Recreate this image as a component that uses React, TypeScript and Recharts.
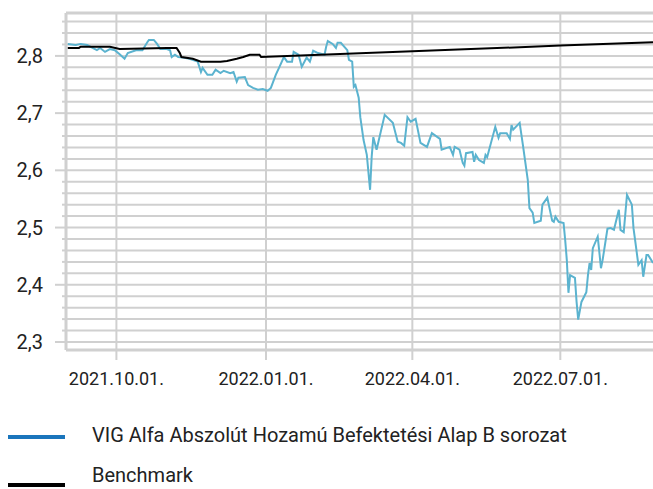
import React from 'react';
import { LineChart, Line, XAxis, YAxis, CartesianGrid, ReferenceLine } from 'recharts';

// fund (B series)
const fundDates = [
  '2021-09-01', '2021-09-06', '2021-09-09', '2021-09-13', '2021-09-19', '2021-09-21', '2021-09-24', '2021-09-27',
  '2021-09-30', '2021-10-03', '2021-10-06', '2021-10-08', '2021-10-13', '2021-10-17', '2021-10-20', '2021-10-21',
  '2021-10-24', '2021-10-26', '2021-10-28', '2021-11-01', '2021-11-03', '2021-11-04', '2021-11-06', '2021-11-08',
  '2021-11-11', '2021-11-15', '2021-11-20', '2021-11-22', '2021-11-23', '2021-11-26', '2021-11-29', '2021-12-01',
  '2021-12-04', '2021-12-06', '2021-12-10', '2021-12-12', '2021-12-14', '2021-12-15', '2021-12-19', '2021-12-21',
  '2021-12-24', '2021-12-27', '2021-12-30', '2022-01-02', '2022-01-04', '2022-01-07', '2022-01-09', '2022-01-12',
  '2022-01-14', '2022-01-17', '2022-01-18', '2022-01-21', '2022-01-23', '2022-01-26', '2022-01-28', '2022-01-30',
  '2022-02-02', '2022-02-06', '2022-02-07', '2022-02-08', '2022-02-11', '2022-02-13', '2022-02-14', '2022-02-16',
  '2022-02-20', '2022-02-21', '2022-02-23', '2022-02-24', '2022-02-25', '2022-02-27', '2022-02-28', '2022-03-02',
  '2022-03-04', '2022-03-06', '2022-03-07', '2022-03-08', '2022-03-10', '2022-03-15', '2022-03-20', '2022-03-23',
  '2022-03-25', '2022-03-27', '2022-03-29', '2022-03-31', '2022-04-03', '2022-04-06', '2022-04-10', '2022-04-13',
  '2022-04-18', '2022-04-19', '2022-04-24', '2022-04-26', '2022-04-27', '2022-04-30', '2022-05-02', '2022-05-03',
  '2022-05-04', '2022-05-08', '2022-05-09', '2022-05-10', '2022-05-12', '2022-05-15', '2022-05-16', '2022-05-17',
  '2022-05-22', '2022-05-24', '2022-05-25', '2022-05-29', '2022-05-31', '2022-06-01', '2022-06-02', '2022-06-06',
  '2022-06-08', '2022-06-11', '2022-06-12', '2022-06-14', '2022-06-15', '2022-06-19', '2022-06-20', '2022-06-23',
  '2022-06-26', '2022-06-27', '2022-06-28', '2022-06-30', '2022-07-03', '2022-07-04', '2022-07-05', '2022-07-06',
  '2022-07-07', '2022-07-10', '2022-07-11', '2022-07-12', '2022-07-14', '2022-07-17', '2022-07-18', '2022-07-19',
  '2022-07-20', '2022-07-21', '2022-07-24', '2022-07-25', '2022-07-26', '2022-07-27', '2022-07-30', '2022-08-01',
  '2022-08-03', '2022-08-04', '2022-08-06', '2022-08-07', '2022-08-09', '2022-08-11', '2022-08-14', '2022-08-15',
  '2022-08-16', '2022-08-18', '2022-08-20', '2022-08-21', '2022-08-23', '2022-08-24', '2022-08-27',
];
const fundValues = [
  2.821, 2.819, 2.821, 2.819, 2.810, 2.814, 2.807, 2.812,
  2.810, 2.803, 2.795, 2.805, 2.810, 2.810, 2.824, 2.828,
  2.828, 2.821, 2.812, 2.812, 2.810, 2.798, 2.802, 2.798,
  2.797, 2.795, 2.790, 2.772, 2.779, 2.767, 2.767, 2.776,
  2.770, 2.774, 2.770, 2.772, 2.755, 2.762, 2.763, 2.749,
  2.744, 2.741, 2.742, 2.739, 2.744, 2.767, 2.779, 2.798,
  2.790, 2.790, 2.807, 2.802, 2.781, 2.797, 2.790, 2.809,
  2.805, 2.802, 2.816, 2.826, 2.821, 2.814, 2.823, 2.823,
  2.810, 2.793, 2.790, 2.746, 2.749, 2.727, 2.693, 2.653,
  2.627, 2.566, 2.624, 2.658, 2.636, 2.697, 2.683, 2.650,
  2.648, 2.643, 2.693, 2.685, 2.690, 2.648, 2.641, 2.665,
  2.655, 2.636, 2.641, 2.627, 2.641, 2.636, 2.613, 2.608,
  2.630, 2.632, 2.615, 2.627, 2.618, 2.613, 2.627, 2.623,
  2.676, 2.657, 2.665, 2.665, 2.655, 2.679, 2.671, 2.683,
  2.644, 2.583, 2.534, 2.526, 2.508, 2.512, 2.540, 2.552,
  2.512, 2.510, 2.519, 2.510, 2.508, 2.478, 2.443, 2.386,
  2.417, 2.412, 2.370, 2.339, 2.370, 2.387, 2.417, 2.438,
  2.426, 2.464, 2.484, 2.457, 2.429, 2.443, 2.498, 2.499,
  2.496, 2.508, 2.531, 2.496, 2.492, 2.557, 2.540, 2.499,
  2.478, 2.435, 2.443, 2.414, 2.452, 2.452, 2.438,
];

// benchmark
const benchDates = [
  '2021-09-01', '2021-09-08', '2021-09-09', '2021-09-27', '2021-10-03', '2021-11-01', '2021-11-07', '2021-11-09',
  '2021-11-10', '2021-11-17', '2021-11-22', '2021-12-04', '2021-12-08', '2021-12-14', '2021-12-18', '2021-12-22',
  '2021-12-28', '2021-12-29', '2022-04-01', '2022-07-01', '2022-08-27',
];
const benchValues = [
  2.814, 2.814, 2.816, 2.816, 2.812, 2.814, 2.814, 2.805,
  2.798, 2.795, 2.790, 2.790, 2.791, 2.795, 2.798, 2.802,
  2.802, 2.798, 2.808, 2.818, 2.824,
];

const xTickDates = ['2021-10-01', '2022-01-01', '2022-04-01', '2022-07-01'];
const xTickLabels = ['2021.10.01.', '2022.01.01.', '2022.04.01.', '2022.07.01.'];
const xDomainDates = ['2021-08-31', '2022-08-27'];

const yTicks = [
  2.3, 2.32, 2.34, 2.36, 2.38, 2.4, 2.42, 2.44, 2.46, 2.48, 2.5, 2.52, 2.54, 2.56, 2.58,
  2.6, 2.62, 2.64, 2.66, 2.68, 2.7, 2.72, 2.74, 2.76, 2.78, 2.8, 2.82, 2.84, 2.86,
];
const yDomain = [2.286, 2.875];

const fundData = fundDates.map((d, i) => ({ t: Date.parse(d), v: fundValues[i] }));
const benchData = benchDates.map((d, i) => ({ t: Date.parse(d), v: benchValues[i] }));
const xTicks = xTickDates.map((d) => Date.parse(d));
const xDomain = xDomainDates.map((d) => Date.parse(d));

const FONT = 'Roboto, "Noto Sans", sans-serif';
const GRID = '#d0d0d0';
const TEXT = '#222222';

const YTick = (props: any) => {
  const { x, y, payload } = props;
  const val = payload.value as number;
  const major = Math.abs(val * 10 - Math.round(val * 10)) < 1e-6;
  return (
    <g>
      <line x1={x - (major ? 11 : 4)} x2={x} y1={y} y2={y} stroke={GRID} strokeWidth={2} />
      {major && (
        <text x={x - 23} y={y} dy="0.35em" textAnchor="end" fontSize={20} fill={TEXT} fontFamily={FONT}>
          {val.toFixed(1).replace('.', ',')}
        </text>
      )}
    </g>
  );
};

export default function App() {
  return (
    <div style={{ position: 'absolute', left: 0, top: 0, width: 653, height: 489, background: '#fff', fontFamily: FONT }}>
      <LineChart width={653} height={400} margin={{ top: 13, right: 0, left: 0, bottom: 0 }}>
        <CartesianGrid stroke={GRID} strokeWidth={2} horizontalValues={yTicks} verticalValues={xTicks} />
        <XAxis
          dataKey="t"
          type="number"
          domain={xDomain}
          ticks={xTicks}
          allowDataOverflow
          height={50}
          tickSize={10}
          tickMargin={12}
          tickLine={{ stroke: GRID, strokeWidth: 2 }}
          axisLine={{ stroke: GRID, strokeWidth: 3 }}
          tick={{ fill: TEXT, fontSize: 18, fontFamily: FONT }}
          tickFormatter={(t: number) => xTickLabels[xTicks.indexOf(t)]}
        />
        <YAxis
          type="number"
          domain={yDomain}
          ticks={yTicks}
          allowDataOverflow
          width={66}
          tickSize={0}
          tickMargin={0}
          tickLine={false}
          axisLine={{ stroke: GRID, strokeWidth: 3 }}
          tick={YTick}
          interval={0}
        />
        <ReferenceLine y={yDomain[1]} stroke={GRID} strokeWidth={3} />
        <Line data={fundData} dataKey="v" type="linear" stroke="#5bb3cf" strokeWidth={2} dot={false} isAnimationActive={false} />
        <Line data={benchData} dataKey="v" type="linear" stroke="#000000" strokeWidth={2} dot={false} isAnimationActive={false} />
      </LineChart>
      <div style={{ position: 'absolute', left: 8, top: 435, width: 57, height: 4, background: '#1a75bc' }} />
      <div style={{ position: 'absolute', left: 92, top: 425, fontSize: 20, lineHeight: '20px', color: TEXT, whiteSpace: 'nowrap' }}>
        VIG Alfa Abszolút Hozamú Befektetési Alap B sorozat
      </div>
      <div style={{ position: 'absolute', left: 8, top: 483, width: 57, height: 4, background: '#000' }} />
      <div style={{ position: 'absolute', left: 92, top: 465, fontSize: 20, lineHeight: '20px', color: TEXT, whiteSpace: 'nowrap' }}>
        Benchmark
      </div>
    </div>
  );
}
